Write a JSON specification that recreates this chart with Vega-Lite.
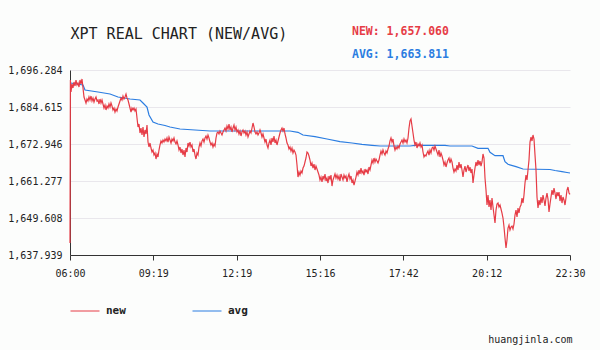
{
  "$schema": "https://vega.github.io/schema/vega-lite/v6.json",
  "width": 500,
  "height": 185,
  "autosize": {"type": "none"},
  "padding": {"left": 70, "top": 70, "right": 30, "bottom": 95},
  "background": "#fcfdfc",
  "config": {"view": {"stroke": null}},
  "title": {
    "text": "NEW: 1,657.060",
    "subtitle": "AVG: 1,663.811",
    "anchor": "start",
    "frame": "group",
    "dx": 282,
    "dy": 44,
    "offset": 10,
    "color": "#e63c46",
    "subtitleColor": "#2b7de1",
    "font": "DejaVu Sans Mono",
    "fontSize": 11.5,
    "fontWeight": "bold",
    "subtitleFont": "DejaVu Sans Mono",
    "subtitleFontSize": 11.5,
    "subtitleFontWeight": "bold",
    "subtitlePadding": 11
  },
  "encoding": {
    "x": {
      "field": "i",
      "type": "quantitative",
      "scale": {"domain": [0, 500], "nice": false, "zero": false},
      "axis": {
        "values": [0, 83.333, 166.667, 250, 333.333, 416.667, 500],
        "labelExpr": "['06:00','09:19','12:19','15:16','17:42','20:12','22:30'][round(datum.value/83.333)]",
        "grid": false,
        "domainColor": "#333333",
        "tickColor": "#333333",
        "tickSize": 5,
        "labelFont": "DejaVu Sans Mono",
        "labelFontSize": 10,
        "labelColor": "#222222",
        "labelPadding": 8,
        "labelFlush": false,
        "labelOverlap": false,
        "title": "huangjinla.com",
        "titleAnchor": "end",
        "titleAlign": "right",
        "titleX": 502,
        "titleY": 87,
        "titleBaseline": "alphabetic",
        "titleFont": "DejaVu Sans Mono",
        "titleFontSize": 10,
        "titleFontWeight": "normal",
        "titleColor": "#222222"
      }
    },
    "y": {
      "field": "v",
      "type": "quantitative",
      "scale": {"domain": [1637.939, 1696.284], "nice": false, "zero": false},
      "axis": {
        "values": [1637.939, 1649.608, 1661.277, 1672.946, 1684.615, 1696.284],
        "format": ",.3f",
        "grid": true,
        "gridColor": "#e9e7ec",
        "ticks": false,
        "domainColor": "#333333",
        "labelPadding": 8,
        "labelFont": "DejaVu Sans Mono",
        "labelFontSize": 10,
        "labelColor": "#222222",
        "labelFlush": false,
        "labelOverlap": false,
        "title": "XPT REAL CHART (NEW/AVG)",
        "titleAngle": 0,
        "titleX": 0,
        "titleY": -32,
        "titleAlign": "left",
        "titleBaseline": "alphabetic",
        "titleFont": "DejaVu Sans Mono",
        "titleFontSize": 15,
        "titleFontWeight": "normal",
        "titleColor": "#222222"
      }
    },
    "color": {
      "datum": "new",
      "type": "nominal",
      "scale": {"domain": ["new", "avg"], "range": ["#e63c46", "#2b7de1"]},
      "legend": {
        "title": null,
        "orient": "none",
        "legendX": 0,
        "legendY": 226,
        "direction": "horizontal",
        "symbolType": "stroke",
        "symbolSize": 841,
        "symbolStrokeWidth": 1,
        "labelFont": "DejaVu Sans Mono",
        "labelFontSize": 11,
        "labelFontWeight": "bold",
        "labelColor": "#222222",
        "labelOffset": 6,
        "columnPadding": 64
      }
    }
  },
  "layer": [
    {
      "data": {"values": [
        {"i":0.5,"v":1692.18},{"i":13,"v":1691.55},{"i":15,"v":1689.98},{"i":28,"v":1689.35},{"i":40,"v":1688.71},{"i":48,"v":1687.77},{"i":60,"v":1687.14},{"i":70,"v":1686.82},{"i":73,"v":1685.88},{"i":77,"v":1684.61},{"i":79,"v":1682.09},{"i":83,"v":1679.88},{"i":88,"v":1679.25},{"i":95,"v":1678.78},{"i":100,"v":1678.31},{"i":110,"v":1677.67},{"i":125,"v":1677.36},{"i":140,"v":1677.04},{"i":220,"v":1677.04},{"i":228,"v":1676.64},{"i":233,"v":1675.78},{"i":245,"v":1675.25},{"i":257,"v":1674.52},{"i":270,"v":1673.67},{"i":282,"v":1673.26},{"i":292,"v":1672.85},{"i":302,"v":1672.53},{"i":310,"v":1672.31},{"i":340,"v":1672.31},{"i":345,"v":1672.53},{"i":375,"v":1672.53},{"i":380,"v":1672.31},{"i":402,"v":1672.31},{"i":408,"v":1671.59},{"i":418,"v":1671.59},{"i":420,"v":1670.33},{"i":425,"v":1669.26},{"i":433,"v":1669.26},{"i":435,"v":1667.36},{"i":438,"v":1666.54},{"i":446,"v":1665.79},{"i":453,"v":1665.06},{"i":480,"v":1664.90},{"i":485,"v":1664.59},{"i":492,"v":1664.21},{"i":497,"v":1663.96},{"i":500,"v":1663.81}
      ]},
      "mark": {"type": "line", "strokeWidth": 1.2},
      "encoding": {"color": {"datum": "avg", "type": "nominal"}}
    },
    {
      "data": {"values": [
        {"i":0,"v":1641.72},{"i":0.4,"v":1693.13},{"i":1,"v":1689.35},{"i":2,"v":1691.87},{"i":3,"v":1690.61},{"i":4,"v":1692.5},{"i":5,"v":1691.24},{"i":6,"v":1693.13},{"i":7,"v":1691.55},{"i":8,"v":1692.18},{"i":9,"v":1690.92},{"i":10,"v":1693.13},{"i":11,"v":1691.87},{"i":12,"v":1693.45},{"i":13,"v":1690.61},
        {"i":14,"v":1687.77},{"i":15,"v":1686.82},{"i":16,"v":1685.88},{"i":17,"v":1687.14},{"i":18,"v":1686.51},{"i":19,"v":1687.77},{"i":20,"v":1686.82},{"i":21,"v":1688.08},{"i":22,"v":1686.51},{"i":23,"v":1687.45},{"i":24,"v":1686.19},{"i":25,"v":1687.14},{"i":26,"v":1687.77},{"i":27,"v":1686.51},{"i":28,"v":1686.82},{"i":29,"v":1685.56},{"i":30,"v":1687.14},{"i":31,"v":1685.88},{"i":32,"v":1686.82},
        {"i":33,"v":1685.56},{"i":34,"v":1684.3},{"i":35,"v":1685.25},{"i":36,"v":1683.67},{"i":37,"v":1684.93},{"i":38,"v":1684.3},{"i":39,"v":1685.56},{"i":40,"v":1684.61},{"i":41,"v":1685.88},{"i":42,"v":1684.93},{"i":43,"v":1683.67},{"i":44,"v":1684.3},{"i":45,"v":1683.04},{"i":46,"v":1683.98},{"i":47,"v":1683.35},{"i":48,"v":1684.61},
        {"i":49,"v":1685.56},{"i":50,"v":1686.51},{"i":51,"v":1687.45},{"i":52,"v":1686.82},{"i":53,"v":1688.08},{"i":54,"v":1687.14},{"i":55,"v":1687.77},{"i":56,"v":1688.71},{"i":57,"v":1687.45},{"i":58,"v":1686.82},
        {"i":59,"v":1685.56},{"i":60,"v":1684.3},{"i":61,"v":1683.04},{"i":62,"v":1684.3},{"i":63,"v":1683.67},{"i":64,"v":1684.3},{"i":65,"v":1683.35},{"i":66,"v":1683.98},
        {"i":67,"v":1681.14},{"i":68,"v":1678.31},{"i":69,"v":1679.25},{"i":70,"v":1676.41},{"i":71,"v":1677.99},{"i":72,"v":1675.78},{"i":73,"v":1678.31},{"i":74,"v":1675.15},{"i":75,"v":1677.36},{"i":76,"v":1676.1},{"i":77,"v":1678.94},
        {"i":78,"v":1673.57},{"i":79,"v":1672.0},{"i":80,"v":1673.26},{"i":81,"v":1671.68},{"i":82,"v":1670.42},{"i":83,"v":1671.05},{"i":84,"v":1669.47},{"i":85,"v":1670.1},{"i":86,"v":1668.21},{"i":87,"v":1669.79},{"i":88,"v":1668.84},{"i":89,"v":1671.05},
        {"i":90,"v":1672.63},{"i":91,"v":1673.89},{"i":92,"v":1673.26},{"i":93,"v":1674.2},{"i":94,"v":1673.57},{"i":95,"v":1674.52},{"i":96,"v":1673.89},{"i":97,"v":1674.84},{"i":98,"v":1673.57},{"i":99,"v":1675.15},{"i":100,"v":1674.2},{"i":101,"v":1673.26},{"i":102,"v":1674.52},{"i":103,"v":1673.89},{"i":104,"v":1674.84},{"i":105,"v":1673.57},{"i":106,"v":1672.94},{"i":107,"v":1673.89},
        {"i":108,"v":1672.63},{"i":109,"v":1671.05},{"i":110,"v":1672.0},{"i":111,"v":1670.1},{"i":112,"v":1671.37},{"i":113,"v":1669.47},{"i":114,"v":1671.05},{"i":115,"v":1668.84},{"i":116,"v":1671.68},{"i":117,"v":1670.42},{"i":118,"v":1673.26},{"i":119,"v":1672.31},{"i":120,"v":1673.57},{"i":121,"v":1672.0},{"i":122,"v":1672.63},{"i":123,"v":1670.42},{"i":124,"v":1671.37},{"i":125,"v":1669.47},{"i":126,"v":1668.21},{"i":127,"v":1670.1},{"i":128,"v":1669.47},
        {"i":129,"v":1672.0},{"i":130,"v":1673.26},{"i":131,"v":1672.31},{"i":132,"v":1673.89},{"i":133,"v":1674.52},{"i":134,"v":1673.57},{"i":135,"v":1674.84},{"i":136,"v":1675.47},{"i":137,"v":1674.52},{"i":138,"v":1675.78},
        {"i":139,"v":1674.84},{"i":140,"v":1673.57},{"i":141,"v":1672.63},{"i":142,"v":1673.26},{"i":143,"v":1672.0},{"i":144,"v":1672.94},{"i":145,"v":1672.31},
        {"i":146,"v":1674.84},{"i":147,"v":1676.41},{"i":148,"v":1676.73},{"i":149,"v":1676.1},{"i":150,"v":1677.04},{"i":151,"v":1676.41},{"i":152,"v":1675.78},{"i":153,"v":1676.73},
        {"i":154,"v":1677.36},{"i":155,"v":1677.99},{"i":156,"v":1677.04},{"i":157,"v":1678.62},{"i":158,"v":1677.67},{"i":159,"v":1679.25},{"i":160,"v":1677.36},{"i":161,"v":1678.31},{"i":162,"v":1676.73},{"i":163,"v":1677.99},{"i":164,"v":1678.94},{"i":165,"v":1677.36},{"i":166,"v":1678.31},
        {"i":167,"v":1676.73},{"i":168,"v":1677.36},{"i":169,"v":1676.1},{"i":170,"v":1677.04},{"i":171,"v":1675.47},{"i":172,"v":1676.73},{"i":173,"v":1677.36},{"i":174,"v":1676.41},{"i":175,"v":1677.04},{"i":176,"v":1675.78},{"i":177,"v":1676.73},{"i":178,"v":1675.15},{"i":179,"v":1676.1},{"i":180,"v":1677.04},{"i":181,"v":1676.41},
        {"i":182,"v":1677.99},{"i":183,"v":1679.57},{"i":184,"v":1678.31},{"i":185,"v":1676.73},{"i":186,"v":1676.1},{"i":187,"v":1676.73},{"i":188,"v":1675.78},{"i":189,"v":1676.41},
        {"i":190,"v":1677.36},{"i":191,"v":1676.41},{"i":192,"v":1675.15},{"i":193,"v":1676.1},{"i":194,"v":1674.84},{"i":195,"v":1673.57},{"i":196,"v":1674.52},{"i":197,"v":1672.63},{"i":198,"v":1671.68},{"i":199,"v":1673.26},
        {"i":200,"v":1674.2},{"i":201,"v":1672.63},{"i":202,"v":1674.84},{"i":203,"v":1673.57},{"i":204,"v":1675.47},{"i":205,"v":1673.26},{"i":206,"v":1674.2},{"i":207,"v":1672.63},{"i":208,"v":1673.89},{"i":209,"v":1675.15},
        {"i":210,"v":1676.41},{"i":211,"v":1677.36},{"i":212,"v":1677.99},{"i":213,"v":1677.04},{"i":214,"v":1677.99},{"i":215,"v":1676.1},{"i":216,"v":1674.84},{"i":217,"v":1673.26},
        {"i":218,"v":1672.63},{"i":219,"v":1671.37},{"i":220,"v":1672.0},{"i":221,"v":1670.73},{"i":222,"v":1671.68},{"i":223,"v":1670.1},{"i":224,"v":1671.05},{"i":225,"v":1670.42},{"i":226,"v":1669.47},
        {"i":227,"v":1666.32},{"i":228,"v":1662.53},{"i":229,"v":1664.11},{"i":230,"v":1663.16},{"i":231,"v":1664.43},{"i":232,"v":1663.8},{"i":233,"v":1665.37},{"i":234,"v":1666.0},{"i":235,"v":1667.27},{"i":236,"v":1668.53},
        {"i":237,"v":1670.42},{"i":238,"v":1670.1},{"i":239,"v":1669.16},{"i":240,"v":1667.9},
        {"i":241,"v":1666.0},{"i":242,"v":1666.95},{"i":243,"v":1665.37},{"i":244,"v":1666.63},{"i":245,"v":1664.74},{"i":246,"v":1666.0},{"i":247,"v":1665.06},{"i":248,"v":1664.11},
        {"i":249,"v":1663.16},{"i":250,"v":1661.59},{"i":251,"v":1662.53},{"i":252,"v":1660.96},{"i":253,"v":1662.85},{"i":254,"v":1661.9},{"i":255,"v":1663.48},{"i":256,"v":1661.27},{"i":257,"v":1662.22},{"i":258,"v":1660.64},{"i":259,"v":1662.85},{"i":260,"v":1661.9},{"i":261,"v":1663.16},{"i":262,"v":1659.69},
        {"i":263,"v":1661.59},{"i":264,"v":1662.53},{"i":265,"v":1663.48},{"i":266,"v":1662.22},{"i":267,"v":1663.16},{"i":268,"v":1661.9},{"i":269,"v":1662.85},{"i":270,"v":1661.27},{"i":271,"v":1663.48},{"i":272,"v":1662.53},{"i":273,"v":1661.59},{"i":274,"v":1663.16},{"i":275,"v":1662.22},{"i":276,"v":1662.85},{"i":277,"v":1660.96},{"i":278,"v":1662.53},{"i":279,"v":1663.48},{"i":280,"v":1661.9},{"i":281,"v":1662.85},{"i":282,"v":1660.64},
        {"i":283,"v":1661.59},{"i":284,"v":1660.01},{"i":285,"v":1661.27},
        {"i":286,"v":1662.53},{"i":287,"v":1664.11},{"i":288,"v":1663.16},{"i":289,"v":1664.74},{"i":290,"v":1663.48},{"i":291,"v":1665.37},{"i":292,"v":1663.8},{"i":293,"v":1664.43},{"i":294,"v":1663.16},{"i":295,"v":1665.06},{"i":296,"v":1664.11},{"i":297,"v":1664.74},{"i":298,"v":1663.48},{"i":299,"v":1665.69},{"i":300,"v":1664.74},
        {"i":301,"v":1666.32},{"i":302,"v":1667.9},{"i":303,"v":1666.95},{"i":304,"v":1668.53},{"i":305,"v":1667.27},{"i":306,"v":1668.21},{"i":307,"v":1667.58},{"i":308,"v":1666.95},{"i":309,"v":1667.9},
        {"i":310,"v":1669.47},{"i":311,"v":1670.73},{"i":312,"v":1669.79},{"i":313,"v":1671.05},{"i":314,"v":1670.1},{"i":315,"v":1669.47},{"i":316,"v":1670.73},{"i":317,"v":1670.1},{"i":318,"v":1671.37},
        {"i":319,"v":1672.31},{"i":320,"v":1673.89},{"i":321,"v":1674.84},{"i":322,"v":1673.57},{"i":323,"v":1674.52},
        {"i":324,"v":1672.31},{"i":325,"v":1671.05},{"i":326,"v":1672.0},{"i":327,"v":1671.37},{"i":328,"v":1672.31},{"i":329,"v":1671.68},{"i":330,"v":1672.94},
        {"i":331,"v":1673.57},{"i":332,"v":1674.2},{"i":333,"v":1673.26},{"i":334,"v":1674.52},{"i":335,"v":1673.57},{"i":336,"v":1674.2},{"i":337,"v":1673.26},{"i":338,"v":1674.84},
        {"i":339,"v":1677.99},{"i":340,"v":1680.2},{"i":341,"v":1680.83},{"i":342,"v":1678.62},{"i":343,"v":1676.41},
        {"i":344,"v":1674.2},{"i":345,"v":1672.63},{"i":346,"v":1673.57},{"i":347,"v":1671.68},{"i":348,"v":1672.94},{"i":349,"v":1672.31},{"i":350,"v":1673.26},{"i":351,"v":1672.0},{"i":352,"v":1672.63},
        {"i":353,"v":1670.42},{"i":354,"v":1668.84},{"i":355,"v":1669.47},{"i":356,"v":1669.16},{"i":357,"v":1670.1},
        {"i":358,"v":1670.73},{"i":359,"v":1669.47},{"i":360,"v":1671.05},{"i":361,"v":1670.1},{"i":362,"v":1671.68},{"i":363,"v":1672.0},{"i":364,"v":1671.05},{"i":365,"v":1672.31},{"i":366,"v":1671.37},
        {"i":367,"v":1670.42},{"i":368,"v":1669.47},{"i":369,"v":1671.05},{"i":370,"v":1668.84},{"i":371,"v":1670.1},{"i":372,"v":1669.16},
        {"i":373,"v":1667.9},{"i":374,"v":1666.32},{"i":375,"v":1667.27},{"i":376,"v":1665.69},{"i":377,"v":1666.95},
        {"i":378,"v":1667.9},{"i":379,"v":1668.53},{"i":380,"v":1666.95},{"i":381,"v":1668.21},{"i":382,"v":1667.27},
        {"i":383,"v":1665.37},{"i":384,"v":1664.11},{"i":385,"v":1665.06},{"i":386,"v":1664.43},
        {"i":387,"v":1666.32},{"i":388,"v":1664.74},{"i":389,"v":1667.27},{"i":390,"v":1665.37},{"i":391,"v":1666.63},{"i":392,"v":1664.74},{"i":393,"v":1662.53},
        {"i":394,"v":1664.74},{"i":395,"v":1666.0},{"i":396,"v":1664.11},{"i":397,"v":1665.37},{"i":398,"v":1666.32},{"i":399,"v":1664.43},{"i":400,"v":1665.69},{"i":401,"v":1663.8},{"i":402,"v":1665.06},
        {"i":403,"v":1660.64},{"i":404,"v":1663.16},
        {"i":405,"v":1665.37},{"i":406,"v":1667.27},{"i":407,"v":1666.0},{"i":408,"v":1667.9},{"i":409,"v":1666.32},{"i":410,"v":1667.58},{"i":411,"v":1666.0},{"i":412,"v":1667.27},
        {"i":413,"v":1669.79},{"i":414,"v":1668.53},{"i":415,"v":1662.22},
        {"i":416,"v":1658.43},{"i":417,"v":1653.7},{"i":418,"v":1656.86},{"i":419,"v":1653.07},{"i":420,"v":1655.28},
        {"i":421,"v":1652.12},{"i":422,"v":1655.91},{"i":423,"v":1653.07},{"i":424,"v":1650.55},{"i":425,"v":1648.02},
        {"i":426,"v":1652.12},{"i":427,"v":1654.02},{"i":428,"v":1654.33},{"i":429,"v":1653.07},{"i":430,"v":1653.7},
        {"i":431,"v":1652.44},{"i":432,"v":1651.18},{"i":433,"v":1649.6},{"i":434,"v":1646.76},{"i":435,"v":1643.29},{"i":436,"v":1640.14},{"i":437,"v":1642.66},
        {"i":438,"v":1646.45},{"i":439,"v":1647.39},{"i":440,"v":1645.82},{"i":441,"v":1646.76},{"i":442,"v":1647.08},{"i":443,"v":1646.13},
        {"i":444,"v":1647.71},{"i":445,"v":1650.55},{"i":446,"v":1652.12},{"i":447,"v":1649.92},{"i":448,"v":1652.76},{"i":449,"v":1651.18},{"i":450,"v":1653.07},
        {"i":451,"v":1653.7},{"i":452,"v":1655.91},{"i":453,"v":1654.33},{"i":454,"v":1656.86},
        {"i":455,"v":1660.64},{"i":456,"v":1663.16},{"i":457,"v":1661.59},{"i":458,"v":1664.74},
        {"i":459,"v":1667.9},{"i":460,"v":1673.57},{"i":461,"v":1675.15},{"i":462,"v":1673.89},{"i":463,"v":1675.78},{"i":464,"v":1674.52},
        {"i":465,"v":1669.47},{"i":466,"v":1664.74},
        {"i":467,"v":1656.23},{"i":468,"v":1652.76},{"i":469,"v":1655.28},{"i":470,"v":1653.7},
        {"i":471,"v":1656.23},{"i":472,"v":1654.33},{"i":473,"v":1656.86},{"i":474,"v":1655.28},{"i":475,"v":1653.39},{"i":476,"v":1655.91},{"i":477,"v":1657.49},{"i":478,"v":1655.59},
        {"i":479,"v":1651.49},{"i":480,"v":1654.02},
        {"i":481,"v":1656.23},{"i":482,"v":1658.43},{"i":483,"v":1656.86},{"i":484,"v":1659.06},{"i":485,"v":1657.49},{"i":486,"v":1655.59},{"i":487,"v":1657.8},
        {"i":488,"v":1656.54},{"i":489,"v":1657.8},{"i":490,"v":1654.96},{"i":491,"v":1656.86},{"i":492,"v":1654.33},{"i":493,"v":1656.23},
        {"i":494,"v":1655.28},{"i":495,"v":1653.7},{"i":496,"v":1655.91},
        {"i":497,"v":1658.43},{"i":498,"v":1659.38},{"i":499,"v":1657.49},{"i":500,"v":1657.06}
      ]},
      "mark": {"type": "line", "strokeWidth": 1.2},
      "encoding": {"color": {"datum": "new", "type": "nominal"}}
    }
  ]
}
